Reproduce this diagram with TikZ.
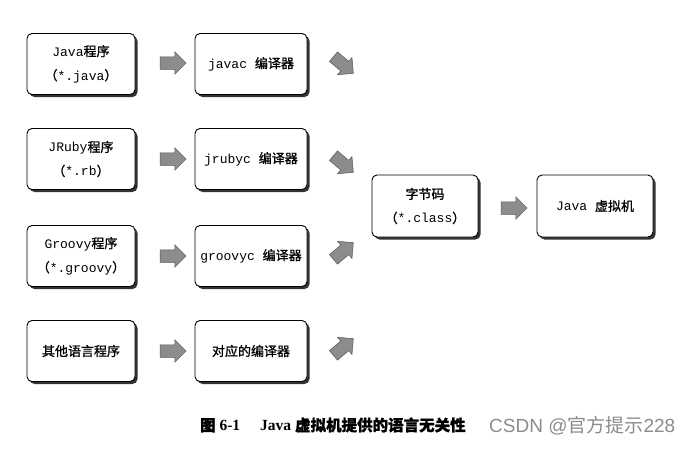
\documentclass[tikz,border=0pt]{standalone}
\usepackage{fontspec}
\setmainfont{Liberation Serif}
\setmonofont{Liberation Mono}
\newfontfamily\cjk[FakeBold=1.2]{Noto Sans CJK SC}
\newfontfamily\cjkplain{Noto Sans CJK SC}
\newfontfamily\wmfont{Liberation Sans}
\usetikzlibrary{shadows,shapes.arrows}
\newcommand{\zh}[1]{{\cjk #1}}
\begin{document}
\begin{tikzpicture}[x=1pt,y=-1pt,
  box/.style={draw=black, line width=0.9pt, rounded corners=5pt, fill=white,
    minimum height=61pt, align=center, inner sep=0pt,
    font=\fontsize{13}{15}\selectfont\ttfamily,
    general shadow={fill=black!80, shadow xshift=2.5pt, shadow yshift=-2.5pt}},
  lbox/.style={box, minimum width=108pt},
  mbox/.style={box, minimum width=112pt},
  blockarrow/.style={single arrow, draw=black!65, line width=0.5pt, fill=black!45,
    minimum height=26pt, inner xsep=0pt, inner ysep=6pt, single arrow head extend=5pt}
]
\useasboundingbox (0,0) rectangle (692,448);
\fill[white] (0,0) rectangle (692,448);

% source programs
\node[lbox] (s1) at (81,64)  {Java\zh{程序}\\[9pt]\zh{（}*.java\zh{）}};
\node[lbox] (s2) at (81,159) {JRuby\zh{程序}\\[9pt]\zh{（}*.rb\zh{）}};
\node[lbox] (s3) at (81,256) {Groovy\zh{程序}\\[9pt]\zh{（}*.groovy\zh{）}};
\node[lbox] (s4) at (81,351) {\zh{其他语言程序}};

% compilers
\node[mbox] (c1) at (251,64)  {javac \zh{编译器}};
\node[mbox] (c2) at (251,159) {jrubyc \zh{编译器}};
\node[mbox] (c3) at (251,256) {groovyc \zh{编译器}};
\node[mbox] (c4) at (251,351) {\zh{对应的编译器}};

% bytecode and JVM
\node[box, minimum width=106pt, minimum height=62pt] (bc) at (425,206)
  {\zh{字节码}\\[9pt]\zh{（}*.class\zh{）}};
\node[box, minimum width=116pt, minimum height=62pt] (jvm) at (595,206)
  {Java \zh{虚拟机}};

% horizontal block arrows
\node[blockarrow] (a1) at (170,63)  {};
\node[blockarrow] (a2) at (170,159) {};
\node[blockarrow] (a3) at (170,256) {};
\node[blockarrow] (a4) at (170,351) {};
\node[blockarrow] (a5) at (511,208) {};

% diagonal block arrows
\node[blockarrow, rotate=-40] (d1) at (341,63)  {};
\node[blockarrow, rotate=-40] (d2) at (341,162) {};
\node[blockarrow, rotate=40]  (d3) at (341,253) {};
\node[blockarrow, rotate=40]  (d4) at (341,349) {};

% caption
\node[anchor=west, inner sep=0pt, font=\fontsize{15.5}{18}\selectfont\bfseries] (cap) at (200,425)
  {\zh{图} 6-1\hspace{20pt}Java \zh{虚拟机提供的语言无关性}};
\node[anchor=west, inner sep=0pt, text=black!45, font=\fontsize{19}{22}\selectfont\wmfont] (wm) at (489,426)
  {CSDN @{\cjkplain 官方提示}228};
\end{tikzpicture}
\end{document}
